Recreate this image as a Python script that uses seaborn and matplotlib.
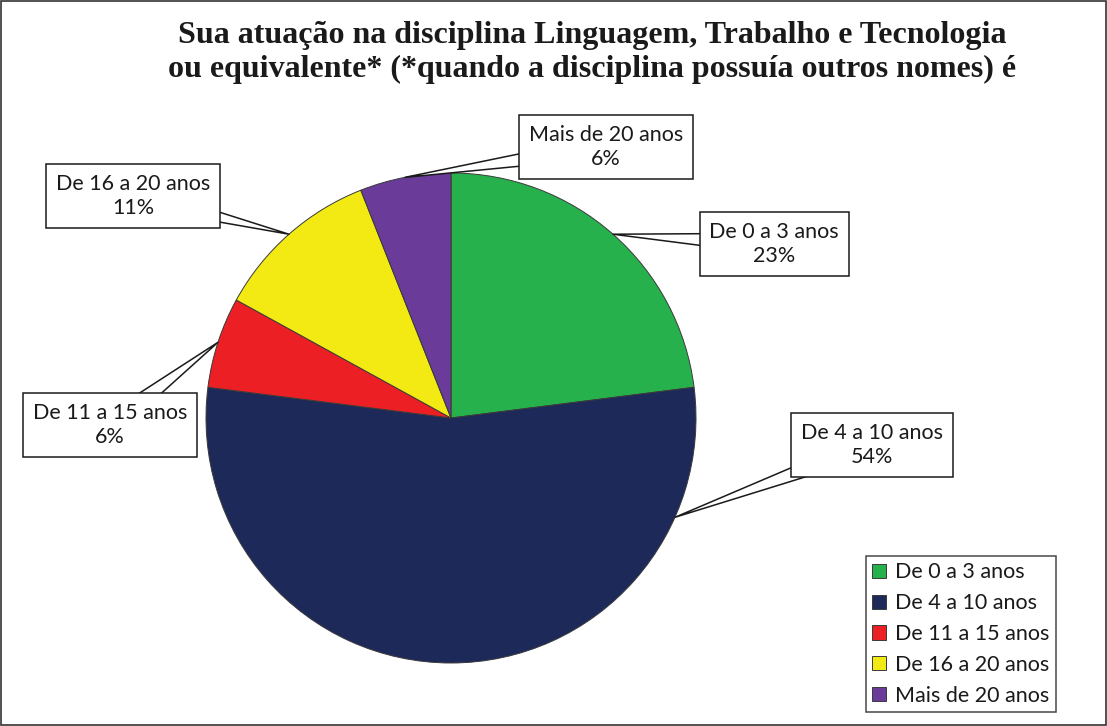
import numpy as np
import matplotlib.pyplot as plt
import seaborn as sns
from matplotlib.patches import Rectangle

# dados do gráfico
categorias = ['De 0 a 3 anos', 'De 4 a 10 anos', 'De 11 a 15 anos',
              'De 16 a 20 anos', 'Mais de 20 anos']
percentuais = [23, 54, 6, 11, 6]
cores = ['#27B14D', '#1C2959', '#EC1F24', '#F3EA14', '#6A3B98']
titulo = ('Sua atuação na disciplina Linguagem, Trabalho e Tecnologia\n'
          'ou equivalente* (*quando a disciplina possuía outros nomes) é')

# layout (pixels, y para cima)
W, H = 1107, 726
centro = (451, H - 418)
raio = 245
# posição das caixas de rótulo e fração ao longo da fatia para a ponta
pos_rotulos = [(774, H - 244), (872, H - 445), (110, H - 425),
               (133, H - 196), (606, H - 147)]
frac_ponta = [0.5, 0.16, 0.5, 0.5, 0.5]

sns.set_theme(style='white')
plt.rcParams['font.family'] = ['Lato', 'DejaVu Sans']

fig = plt.figure(figsize=(W / 100, H / 100), dpi=100)
ax = fig.add_axes([0, 0, 1, 1])

wedges, _ = ax.pie(percentuais, colors=cores, startangle=90, counterclock=False,
                   center=centro, radius=raio, frame=True,
                   wedgeprops=dict(edgecolor='#3a3a3a', linewidth=0.7))
ax.set_xlim(0, W)
ax.set_ylim(0, H)
ax.set_aspect('equal')
ax.axis('off')

for w, cat, p, pos, f in zip(wedges, categorias, percentuais, pos_rotulos, frac_ponta):
    ang = np.deg2rad(w.theta2 - f * (w.theta2 - w.theta1))
    ponta = (w.center[0] + w.r * np.cos(ang), w.center[1] + w.r * np.sin(ang))
    ax.annotate(f'{cat}\n{p}%', xy=ponta, xytext=pos, textcoords='data',
                ha='center', va='center', fontsize=15.5, color='#1a1a1a',
                linespacing=1.3,
                bbox=dict(boxstyle='square,pad=0.45', fc='white', ec='#1a1a1a', lw=1.1),
                arrowprops=dict(arrowstyle='wedge,tail_width=1.0', fc='white',
                                ec='#1a1a1a', lw=1.1, patchA=None,
                                shrinkA=0, shrinkB=0))

fig.text(0.535, 0.928, titulo, ha='center', va='center', fontsize=23,
         fontweight='bold', family=['Liberation Serif', 'DejaVu Serif'],
         color='#1a1a1a', linespacing=1.2)

leg = ax.legend(wedges, categorias, loc='lower left',
                bbox_to_anchor=(866 / W, 14 / H), bbox_transform=fig.transFigure,
                borderaxespad=0, fontsize=15.5, frameon=True, fancybox=False,
                handlelength=0.65, handleheight=0.65, handletextpad=0.4,
                labelspacing=0.5, borderpad=0.3)
leg.get_frame().set_edgecolor('#1a1a1a')
leg.get_frame().set_linewidth(1.1)
for t in leg.get_texts():
    t.set_color('#1a1a1a')

fig.patches.append(Rectangle((0.001, 0.001), 0.998, 0.997, transform=fig.transFigure,
                             fill=False, edgecolor='#333333', linewidth=1.2))

fig.savefig('out.png', dpi=100)
